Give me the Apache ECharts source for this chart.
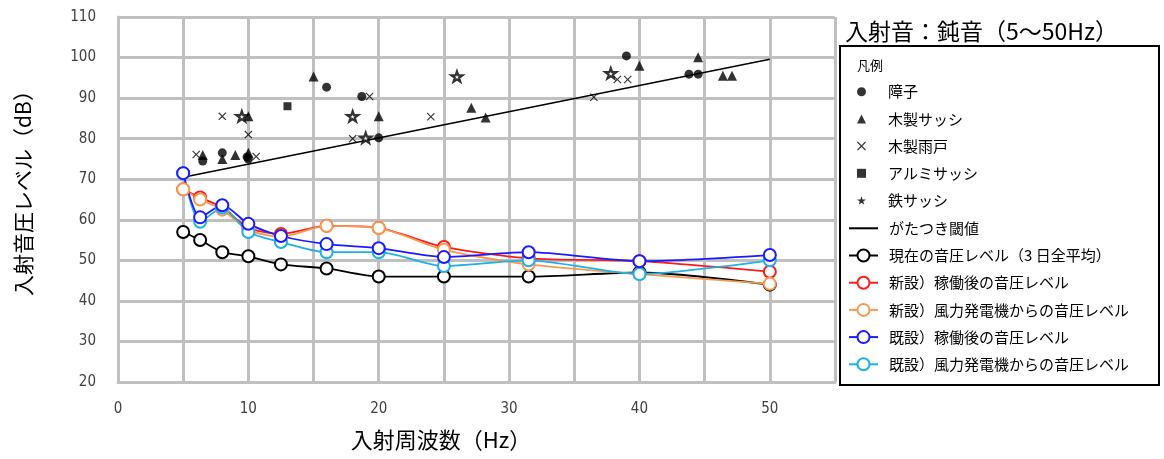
<!DOCTYPE html>
<html>
<head>
<meta charset="utf-8">
<script src="https://cdn.jsdelivr.net/npm/echarts@6/dist/echarts.min.js"></script>
<style>
  html, body { margin: 0; padding: 0; background: #fff; }
  #chart { width: 1164px; height: 459px; }
</style>
</head>
<body>
<div id="chart"></div>
<script>
// 1/3オクターブ中心周波数 (Hz)
const freqs = [5, 6.3, 8, 10, 12.5, 16, 20, 25, 31.5, 40, 50];

// 音圧レベル (dB)
const currentLevel   = [57, 55, 52, 51, 49, 48, 46, 46, 46, 47, 44];
const newOperating   = [67.5, 65.5, 63, 58, 56.5, 58.5, 58, 53.3, 50.5, 49.8, 47.2];
const newWindOnly    = [67.5, 65, 62.5, 57.5, 55.8, 58.5, 58, 52.6, 49, 46.6, 44.2];
const oldOperating   = [71.5, 60.6, 63.6, 59, 56, 54, 53, 50.8, 52, 49.8, 51.3];
const oldWindOnly    = [71.5, 59.5, 63, 57, 54.5, 52, 52, 48.6, 50, 46.6, 50];

// がたつき閾値 (始点・終点)
const rattleThreshold = [[5, 70.5], [50, 99.6]];

// 建具別のがたつき発生 [周波数, 音圧レベル]
const shoji = [[6.5, 74.5], [8, 76.5], [10, 75], [9.9, 75.5], [16, 92.7], [18.7, 90.4], [20, 80.2], [39, 100.4], [43.8, 95.9], [44.5, 95.9]];
const woodSash = [[6.5, 76], [8, 75], [9, 76], [10, 76.5], [10, 85.5], [15, 95.3], [20, 85.5], [27.1, 87.6], [28.2, 85.2], [40, 98], [44.5, 100.1], [46.4, 95.5], [47.1, 95.5]];
const woodShutter = [[6, 76.1], [10.6, 75.6], [8, 85.5], [10, 81], [19.3, 90.4], [18, 80], [24, 85.4], [36.5, 90.2], [38.3, 94.6], [39.1, 94.6]];
const aluminumSash = [[13, 88]];
const steelSash = [[9.5, 85.5], [18, 85.5], [19, 80.2], [26, 95.3], [37.8, 96.1]];

const xTicks = [0, 10, 20, 30, 40, 50];

const jp = '"Noto Sans CJK JP", "Noto Sans", sans-serif';
const narrow = '"Liberation Sans Narrow", "DejaVu Sans Condensed", "Liberation Sans", sans-serif';
const gridGray = '#c0c0c0';

const crossPath = 'path://M1,0 L5,4 L9,0 L10,1 L6,5 L10,9 L9,10 L5,6 L1,10 L0,9 L4,5 L0,1 Z';
const starPath = 'path://M50,0 L61.8,35.1 L98.1,35.1 L68.8,56.7 L79.4,90.5 L50,70 L20.6,90.5 L31.2,56.7 L1.9,35.1 L38.2,35.1 Z';
const dashPath = 'path://M0,0 L20,0 L20,1.4 L0,1.4 Z';

function pairs(xs, ys) { return xs.map((x, i) => [x, ys[i]]); }

function levelSeries(name, color, values) {
  return {
    name, type: 'line', data: pairs(freqs, values),
    smooth: 0.25,
    symbol: 'emptyCircle', symbolSize: 12,
    lineStyle: { color, width: 1.8 },
    itemStyle: { color, borderColor: color, borderWidth: 1.6 },
    emphasis: { disabled: true },
    z: 3
  };
}

function scatterSeries(name, data, symbol, size, extra) {
  return Object.assign({
    name, type: 'scatter', data, symbol, symbolSize: size,
    symbolKeepAspect: true,
    itemStyle: { color: '#000' },
    emphasis: { disabled: true },
    z: 4
  }, extra || {});
}

const chart = echarts.init(document.getElementById('chart'), null, { renderer: 'canvas' });

chart.setOption({
  animation: false,
  backgroundColor: '#fff',
  grid: { left: 118, right: 329, top: 17, bottom: 77, containLabel: false },
  xAxis: {
    type: 'value', min: 0, max: 55, interval: 5,
    axisLine: { show: true, lineStyle: { color: gridGray, width: 3 } },
    axisTick: { show: false },
    splitLine: { show: true, lineStyle: { color: gridGray, width: 3 } },
    axisLabel: {
      margin: 20, color: '#404040', fontSize: 15, fontFamily: narrow,
      formatter: v => (xTicks.indexOf(v) >= 0 ? String(v) : '')
    }
  },
  yAxis: {
    type: 'value', min: 20, max: 110, interval: 10,
    axisLine: { show: true, lineStyle: { color: gridGray, width: 3 } },
    axisTick: { show: false },
    splitLine: { show: true, lineStyle: { color: gridGray, width: 3 } },
    axisLabel: { margin: 22, color: '#404040', fontSize: 15, fontFamily: narrow }
  },
  legend: [
    {
      orient: 'vertical', left: 857, top: 84.2, padding: 0,
      itemWidth: 9, itemHeight: 9, itemGap: 12.2,
      textStyle: { color: '#000', fontSize: 15, lineHeight: 15, fontFamily: jp, padding: [0, 0, 0, 17] },
      selectedMode: false,
      data: [
        { name: '障子' },
        { name: '木製サッシ' },
        { name: '木製雨戸' },
        { name: 'アルミサッシ' },
        { name: '鉄サッシ', itemStyle: { color: '#000', borderWidth: 0 } }
      ]
    },
    {
      orient: 'vertical', left: 848, top: 220.8, padding: 0,
      itemWidth: 29, itemHeight: 15, itemGap: 12.2,
      textStyle: { color: '#000', fontSize: 15, lineHeight: 15, fontFamily: jp, padding: [0, 0, 0, 6] },
      selectedMode: false,
      data: [
        { name: 'がたつき閾値', icon: dashPath, itemStyle: { color: '#000' } },
        '現在の音圧レベル（3 日全平均）',
        '新設）稼働後の音圧レベル',
        '新設）風力発電機からの音圧レベル',
        '既設）稼働後の音圧レベル',
        '既設）風力発電機からの音圧レベル'
      ]
    }
  ],
  graphic: [
    {
      type: 'rect', shape: { x: 840, y: 46, width: 319, height: 339 },
      style: { fill: 'none', stroke: '#000', lineWidth: 2 }, z: 1, silent: true
    },
    {
      type: 'text', x: 857, y: 65,
      style: { text: '凡例', fontSize: 13, fontFamily: jp, fill: '#000', verticalAlign: 'middle' }
    },
    {
      type: 'text', x: 845, y: 31,
      style: { text: '入射音：鈍音（5～50Hz）', fontSize: 23, fontFamily: jp, fill: '#000', verticalAlign: 'middle' }
    },
    {
      type: 'text', x: 441, y: 440,
      style: { text: '入射周波数（Hz）', fontSize: 22, fontFamily: jp, fill: '#000', align: 'center', verticalAlign: 'middle' }
    },
    {
      type: 'text', x: 23, y: 188, rotation: Math.PI / 2,
      style: { text: '入射音圧レベル（dB）', fontSize: 21, fontFamily: jp, fill: '#000', align: 'center', verticalAlign: 'middle' }
    }
  ],
  series: [
    scatterSeries('障子', shoji, 'circle', 9),
    scatterSeries('木製サッシ', woodSash, 'triangle', 10),
    scatterSeries('木製雨戸', woodShutter, crossPath, 8),
    scatterSeries('アルミサッシ', aluminumSash, 'rect', 8),
    scatterSeries('鉄サッシ', steelSash, starPath, 11, {
      itemStyle: { color: '#fff', borderColor: '#000', borderWidth: 2.2 }
    }),
    {
      name: 'がたつき閾値', type: 'line', data: rattleThreshold,
      symbol: 'none', lineStyle: { color: '#000', width: 1.6 },
      itemStyle: { color: '#000' }, emphasis: { disabled: true }, z: 3
    },
    levelSeries('現在の音圧レベル（3 日全平均）', '#000000', currentLevel),
    levelSeries('新設）稼働後の音圧レベル', '#ff1a1a', newOperating),
    levelSeries('新設）風力発電機からの音圧レベル', '#f59a50', newWindOnly),
    levelSeries('既設）風力発電機からの音圧レベル', '#1eb0e8', oldWindOnly),
    levelSeries('既設）稼働後の音圧レベル', '#1a1aff', oldOperating)
  ]
});
</script>
</body>
</html>
